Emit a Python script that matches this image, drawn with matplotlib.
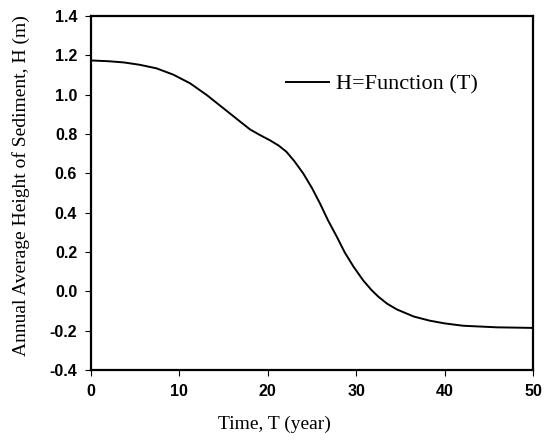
import numpy as np
import matplotlib.pyplot as plt

# values
time_T = [0, 2, 3.7, 5.5, 7.4, 9.3, 11.2, 13.1, 15, 16.9, 18, 19.1, 20.2,
          21.2, 22.1, 23, 24, 25, 25.9, 26.8, 27.8, 28.7, 29.7, 30.8, 31.7,
          32.5, 33.5, 34.6, 36.5, 38.3, 40, 42.1, 45.9, 50]
height_H = [1.174, 1.170, 1.164, 1.152, 1.134, 1.102, 1.058, 0.998, 0.930,
            0.862, 0.823, 0.795, 0.769, 0.742, 0.710, 0.662, 0.600, 0.525,
            0.447, 0.362, 0.278, 0.198, 0.125, 0.055, 0.008, -0.027, -0.063,
            -0.092, -0.128, -0.149, -0.163, -0.175, -0.183, -0.186]
xticks = [0, 10, 20, 30, 40, 50]
yticks = [-0.4, -0.2, 0.0, 0.2, 0.4, 0.6, 0.8, 1.0, 1.2, 1.4]

fig = plt.figure(figsize=(5.46, 4.41), dpi=100)
ax = fig.add_axes([0.1667, 0.161, 0.8095, 0.8027])

ax.plot(time_T, height_H, color='black', lw=1.4, label='H=Function (T)')

ax.set_xlim(0, 50)
ax.set_ylim(-0.4, 1.4)
ax.set_xticks(xticks)
ax.set_yticks(yticks)
ax.set_xticklabels([str(t) for t in xticks])
ax.set_yticklabels(['%.1f' % v for v in yticks])

for s in ax.spines.values():
    s.set_linewidth(1.6)
ax.tick_params(direction='out', length=4, width=0.8, pad=6)
for lab in ax.get_xticklabels() + ax.get_yticklabels():
    lab.set_family('Liberation Sans')
    lab.set_fontweight('bold')
    lab.set_fontsize(11.5)

ax.set_xlabel('Time, T (year)', family='Liberation Serif', fontsize=14)
ax.xaxis.set_label_coords(0.414, -0.13)
ax.set_ylabel('Annual Average Height of Sediment, H (m)', family='Liberation Serif',
              fontsize=14)
ax.yaxis.set_label_coords(-0.139, 0.52)

ax.legend(loc='upper left', bbox_to_anchor=(0.422, 0.862), frameon=False,
          prop={'family': 'Liberation Serif', 'size': 16}, handlelength=1.9,
          handletextpad=0.35, borderaxespad=0)

fig.savefig('out.png', dpi=100)
